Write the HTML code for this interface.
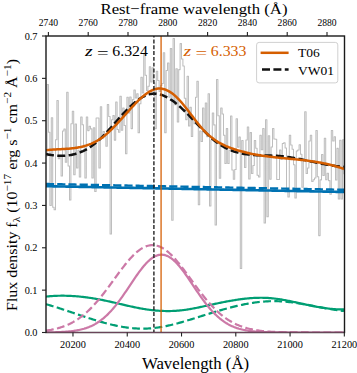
<!DOCTYPE html><html><head><meta charset="utf-8"><style>html,body{margin:0;padding:0;background:#fff;}svg{display:block;}</style></head><body><svg width="357" height="373" viewBox="0 0 357 373"><defs><clipPath id="ax"><rect x="46.00" y="36.00" width="298.50" height="296.50"/></clipPath></defs><rect width="357" height="373" fill="#fff"/><g clip-path="url(#ax)" fill="none" stroke-linejoin="round"><path d="M44.30 150.26H45.70V156.16H47.10V84.40H48.50V132.19H49.90V205.50H51.30V117.70H52.70V207.30H54.10V209.80H55.50V139.74H56.90V100.40H58.30V158.81H59.70V156.13H61.10V176.00H62.50V131.02H63.90V129.00H65.30V162.25H66.70V92.30H68.10V166.00H69.50V200.00H70.90V123.83H72.30V111.30H73.70V174.70H75.10V123.92H76.50V168.00H77.90V150.35H79.30V177.00H80.70V116.92H82.10V124.70H83.50V145.22H84.90V178.00H86.30V117.00H87.70V130.60H89.10V126.30H90.50V128.89H91.90V178.00H93.30V127.73H94.70V191.50H96.10V118.00H97.50V118.00H98.90V168.00H100.30V106.80H101.70V138.51H103.10V131.50H104.50V136.58H105.90V146.30H107.30V104.44H108.70V116.40H110.10V234.00H111.50V119.80H112.90V115.60H114.30V140.11H115.70V102.07H117.10V129.40H118.50V132.24H119.90V96.30H121.30V130.17H122.70V108.00H124.10V125.41H125.50V153.80H126.90V97.16H128.30V112.96H129.70V97.00H131.10V128.60H132.50V99.60H133.90V89.90H135.30V98.00H136.70V93.70H138.10V132.80H139.50V103.80H140.90V77.24H142.30V92.90H143.70V54.04H145.10V75.20H146.50V90.56H147.90V86.20H149.30V66.80H150.70V82.05H152.10V67.70H153.50V82.86H154.90V128.60H156.30V71.30H157.70V80.52H159.10V91.39H160.50V85.40H161.90V83.57H163.30V52.80H164.70V132.80H166.10V70.50H167.50V62.90H168.90V97.13H170.30V48.60H171.70V220.30H173.10V38.50H174.50V104.77H175.90V68.80H177.30V122.00H178.70V69.60H180.10V43.60H181.50V59.00H182.90V66.00H184.30V98.23H185.70V119.60H187.10V76.20H188.50V125.91H189.90V107.30H191.30V136.40H192.70V119.43H194.10V123.77H195.50V97.20H196.90V81.20H198.30V204.70H199.70V131.07H201.10V141.50H202.50V108.00H203.90V131.50H205.30V103.08H206.70V136.62H208.10V93.80H209.50V206.00H210.90V140.04H212.30V113.00H213.70V124.88H215.10V225.00H216.50V79.50H217.90V115.80H219.30V178.20H220.70V107.96H222.10V114.00H223.50V135.30H224.90V163.50H226.30V128.64H227.70V163.45H229.10V150.35H230.50V115.91H231.90V170.00H233.30V179.19H234.70V169.40H236.10V118.80H237.50V147.14H238.90V137.00H240.30V268.40H241.70V140.48H243.10V150.97H244.50V167.50H245.90V139.92H247.30V126.98H248.70V178.94H250.10V132.60H251.50V173.52H252.90V165.50H254.30V140.49H255.70V148.17H257.10V175.30H258.50V177.00H259.90V135.30H261.30V149.68H262.70V128.41H264.10V223.00H265.50V119.80H266.90V216.70H268.30V135.76H269.70V179.20H271.10V147.00H272.50V128.49H273.90V139.00H275.30V139.20H276.70V179.40H278.10V179.40H279.50V150.00H280.90V159.38H282.30V143.49H283.70V142.70H285.10V147.94H286.50V189.20H287.90V197.00H289.30V135.33H290.70V145.00H292.10V149.31H293.50V164.80H294.90V198.00H296.30V151.04H297.70V149.93H299.10V144.70H300.50V154.18H301.90V187.30H303.30V160.67H304.70V111.80H306.10V173.45H307.50V167.98H308.90V141.00H310.30V135.17H311.70V181.40H313.10V179.66H314.50V178.00H315.90V130.40H317.30V176.80H318.70V235.60H320.10V179.86H321.50V154.57H322.90V175.50H324.30V138.20H325.70V179.78H327.10V173.30H328.50V180.60H329.90V194.23H331.30V130.40H332.70V141.00H334.10V136.83H335.50V180.00H336.90V148.39H338.30V199.00H339.70V140.20H341.10V199.00H342.50V139.83H343.90V173.66H345.30V169.79H346.70" stroke="#bebebe" stroke-width="1.05"/><path d="M46.00 186.20L47.00 186.22L48.00 186.24L49.00 186.26L50.00 186.28L51.00 186.30L52.00 186.32L53.00 186.34L54.00 186.36L55.00 186.37L56.00 186.39L57.00 186.41L58.00 186.43L59.00 186.45L60.00 186.47L61.00 186.49L62.00 186.51L63.00 186.53L64.00 186.55L65.00 186.57L66.00 186.59L67.00 186.61L68.00 186.63L69.00 186.65L70.00 186.67L71.00 186.69L72.00 186.71L73.00 186.72L74.00 186.74L75.00 186.76L76.00 186.78L77.00 186.80L78.00 186.82L79.00 186.84L80.00 186.86L81.00 186.88L82.00 186.90L83.00 186.92L84.00 186.94L85.00 186.96L86.00 186.98L87.00 187.00L88.00 187.02L89.00 187.04L90.00 187.05L91.00 187.07L92.00 187.09L93.00 187.11L94.00 187.13L95.00 187.15L96.00 187.17L97.00 187.19L98.00 187.21L99.00 187.23L100.00 187.25L101.00 187.27L102.00 187.29L103.00 187.31L104.00 187.33L105.00 187.35L106.00 187.37L107.00 187.39L108.00 187.40L109.00 187.42L110.00 187.44L111.00 187.46L112.00 187.48L113.00 187.50L114.00 187.52L115.00 187.54L116.00 187.56L117.00 187.58L118.00 187.60L119.00 187.62L120.00 187.64L121.00 187.66L122.00 187.68L123.00 187.70L124.00 187.72L125.00 187.74L126.00 187.75L127.00 187.77L128.00 187.79L129.00 187.81L130.00 187.83L131.00 187.85L132.00 187.87L133.00 187.89L134.00 187.91L135.00 187.93L136.00 187.95L137.00 187.97L138.00 187.99L139.00 188.01L140.00 188.03L141.00 188.05L142.00 188.07L143.00 188.08L144.00 188.10L145.00 188.12L146.00 188.14L147.00 188.16L148.00 188.18L149.00 188.20L150.00 188.22L151.00 188.24L152.00 188.26L153.00 188.28L154.00 188.30L155.00 188.32L156.00 188.34L157.00 188.36L158.00 188.38L159.00 188.40L160.00 188.42L161.00 188.43L162.00 188.45L163.00 188.47L164.00 188.49L165.00 188.51L166.00 188.53L167.00 188.55L168.00 188.57L169.00 188.59L170.00 188.61L171.00 188.63L172.00 188.65L173.00 188.67L174.00 188.69L175.00 188.71L176.00 188.73L177.00 188.75L178.00 188.76L179.00 188.78L180.00 188.80L181.00 188.82L182.00 188.84L183.00 188.86L184.00 188.88L185.00 188.90L186.00 188.92L187.00 188.94L188.00 188.96L189.00 188.98L190.00 189.00L191.00 189.02L192.00 189.04L193.00 189.06L194.00 189.08L195.00 189.10L196.00 189.11L197.00 189.13L198.00 189.15L199.00 189.17L200.00 189.19L201.00 189.21L202.00 189.23L203.00 189.25L204.00 189.27L205.00 189.29L206.00 189.31L207.00 189.33L208.00 189.35L209.00 189.37L210.00 189.39L211.00 189.41L212.00 189.43L213.00 189.44L214.00 189.46L215.00 189.48L216.00 189.50L217.00 189.52L218.00 189.54L219.00 189.56L220.00 189.58L221.00 189.60L222.00 189.62L223.00 189.64L224.00 189.66L225.00 189.68L226.00 189.70L227.00 189.72L228.00 189.74L229.00 189.76L230.00 189.78L231.00 189.79L232.00 189.81L233.00 189.83L234.00 189.85L235.00 189.87L236.00 189.89L237.00 189.91L238.00 189.93L239.00 189.95L240.00 189.97L241.00 189.99L242.00 190.01L243.00 190.03L244.00 190.05L245.00 190.07L246.00 190.09L247.00 190.11L248.00 190.12L249.00 190.14L250.00 190.16L251.00 190.18L252.00 190.20L253.00 190.22L254.00 190.24L255.00 190.26L256.00 190.28L257.00 190.30L258.00 190.32L259.00 190.34L260.00 190.36L261.00 190.38L262.00 190.40L263.00 190.42L264.00 190.44L265.00 190.46L266.00 190.47L267.00 190.49L268.00 190.51L269.00 190.53L270.00 190.55L271.00 190.57L272.00 190.59L273.00 190.61L274.00 190.63L275.00 190.65L276.00 190.67L277.00 190.69L278.00 190.71L279.00 190.73L280.00 190.75L281.00 190.77L282.00 190.79L283.00 190.81L284.00 190.82L285.00 190.84L286.00 190.86L287.00 190.88L288.00 190.90L289.00 190.92L290.00 190.94L291.00 190.96L292.00 190.98L293.00 191.00L294.00 191.02L295.00 191.04L296.00 191.06L297.00 191.08L298.00 191.10L299.00 191.12L300.00 191.14L301.00 191.15L302.00 191.17L303.00 191.19L304.00 191.21L305.00 191.23L306.00 191.25L307.00 191.27L308.00 191.29L309.00 191.31L310.00 191.33L311.00 191.35L312.00 191.37L313.00 191.39L314.00 191.41L315.00 191.43L316.00 191.45L317.00 191.47L318.00 191.49L319.00 191.50L320.00 191.52L321.00 191.54L322.00 191.56L323.00 191.58L324.00 191.60L325.00 191.62L326.00 191.64L327.00 191.66L328.00 191.68L329.00 191.70L330.00 191.72L331.00 191.74L332.00 191.76L333.00 191.78L334.00 191.80L335.00 191.82L336.00 191.83L337.00 191.85L338.00 191.87L339.00 191.89L340.00 191.91L341.00 191.93L342.00 191.95L343.00 191.97L344.00 191.99" stroke="#0072B2" stroke-width="2.6"/><path d="M46.00 184.00L47.00 184.02L48.00 184.04L49.00 184.06L50.00 184.08L51.00 184.10L52.00 184.12L53.00 184.14L54.00 184.16L55.00 184.17L56.00 184.19L57.00 184.21L58.00 184.23L59.00 184.25L60.00 184.27L61.00 184.29L62.00 184.31L63.00 184.33L64.00 184.35L65.00 184.37L66.00 184.39L67.00 184.41L68.00 184.43L69.00 184.45L70.00 184.47L71.00 184.49L72.00 184.51L73.00 184.52L74.00 184.54L75.00 184.56L76.00 184.58L77.00 184.60L78.00 184.62L79.00 184.64L80.00 184.66L81.00 184.68L82.00 184.70L83.00 184.72L84.00 184.74L85.00 184.76L86.00 184.78L87.00 184.80L88.00 184.82L89.00 184.84L90.00 184.85L91.00 184.87L92.00 184.89L93.00 184.91L94.00 184.93L95.00 184.95L96.00 184.97L97.00 184.99L98.00 185.01L99.00 185.03L100.00 185.05L101.00 185.07L102.00 185.09L103.00 185.11L104.00 185.13L105.00 185.15L106.00 185.17L107.00 185.19L108.00 185.20L109.00 185.22L110.00 185.24L111.00 185.26L112.00 185.28L113.00 185.30L114.00 185.32L115.00 185.34L116.00 185.36L117.00 185.38L118.00 185.40L119.00 185.42L120.00 185.44L121.00 185.46L122.00 185.48L123.00 185.50L124.00 185.52L125.00 185.54L126.00 185.55L127.00 185.57L128.00 185.59L129.00 185.61L130.00 185.63L131.00 185.65L132.00 185.67L133.00 185.69L134.00 185.71L135.00 185.73L136.00 185.75L137.00 185.77L138.00 185.79L139.00 185.81L140.00 185.83L141.00 185.85L142.00 185.87L143.00 185.88L144.00 185.90L145.00 185.92L146.00 185.94L147.00 185.96L148.00 185.98L149.00 186.00L150.00 186.02L151.00 186.04L152.00 186.06L153.00 186.08L154.00 186.10L155.00 186.12L156.00 186.14L157.00 186.16L158.00 186.18L159.00 186.20L160.00 186.22L161.00 186.23L162.00 186.25L163.00 186.27L164.00 186.29L165.00 186.31L166.00 186.33L167.00 186.35L168.00 186.37L169.00 186.39L170.00 186.41L171.00 186.43L172.00 186.45L173.00 186.47L174.00 186.49L175.00 186.51L176.00 186.53L177.00 186.55L178.00 186.56L179.00 186.58L180.00 186.60L181.00 186.62L182.00 186.64L183.00 186.66L184.00 186.68L185.00 186.70L186.00 186.72L187.00 186.74L188.00 186.76L189.00 186.78L190.00 186.80L191.00 186.82L192.00 186.84L193.00 186.86L194.00 186.88L195.00 186.90L196.00 186.91L197.00 186.93L198.00 186.95L199.00 186.97L200.00 186.99L201.00 187.01L202.00 187.03L203.00 187.05L204.00 187.07L205.00 187.09L206.00 187.11L207.00 187.13L208.00 187.15L209.00 187.17L210.00 187.19L211.00 187.21L212.00 187.23L213.00 187.24L214.00 187.26L215.00 187.28L216.00 187.30L217.00 187.32L218.00 187.34L219.00 187.36L220.00 187.38L221.00 187.40L222.00 187.42L223.00 187.44L224.00 187.46L225.00 187.48L226.00 187.50L227.00 187.52L228.00 187.54L229.00 187.56L230.00 187.58L231.00 187.59L232.00 187.61L233.00 187.63L234.00 187.65L235.00 187.67L236.00 187.69L237.00 187.71L238.00 187.73L239.00 187.75L240.00 187.77L241.00 187.79L242.00 187.81L243.00 187.83L244.00 187.85L245.00 187.87L246.00 187.89L247.00 187.91L248.00 187.92L249.00 187.94L250.00 187.96L251.00 187.98L252.00 188.00L253.00 188.02L254.00 188.04L255.00 188.06L256.00 188.08L257.00 188.10L258.00 188.12L259.00 188.14L260.00 188.16L261.00 188.18L262.00 188.20L263.00 188.22L264.00 188.24L265.00 188.26L266.00 188.27L267.00 188.29L268.00 188.31L269.00 188.33L270.00 188.35L271.00 188.37L272.00 188.39L273.00 188.41L274.00 188.43L275.00 188.45L276.00 188.47L277.00 188.49L278.00 188.51L279.00 188.53L280.00 188.55L281.00 188.57L282.00 188.59L283.00 188.61L284.00 188.62L285.00 188.64L286.00 188.66L287.00 188.68L288.00 188.70L289.00 188.72L290.00 188.74L291.00 188.76L292.00 188.78L293.00 188.80L294.00 188.82L295.00 188.84L296.00 188.86L297.00 188.88L298.00 188.90L299.00 188.92L300.00 188.94L301.00 188.95L302.00 188.97L303.00 188.99L304.00 189.01L305.00 189.03L306.00 189.05L307.00 189.07L308.00 189.09L309.00 189.11L310.00 189.13L311.00 189.15L312.00 189.17L313.00 189.19L314.00 189.21L315.00 189.23L316.00 189.25L317.00 189.27L318.00 189.29L319.00 189.30L320.00 189.32L321.00 189.34L322.00 189.36L323.00 189.38L324.00 189.40L325.00 189.42L326.00 189.44L327.00 189.46L328.00 189.48L329.00 189.50L330.00 189.52L331.00 189.54L332.00 189.56L333.00 189.58L334.00 189.60L335.00 189.62L336.00 189.63L337.00 189.65L338.00 189.67L339.00 189.69L340.00 189.71L341.00 189.73L342.00 189.75L343.00 189.77L344.00 189.79" stroke="#0072B2" stroke-width="2.4" stroke-dasharray="8.2 3.0"/><path d="M46.00 296.57L47.00 296.47L48.00 296.37L49.00 296.28L50.00 296.19L51.00 296.12L52.00 296.05L53.00 295.98L54.00 295.93L55.00 295.88L56.00 295.83L57.00 295.80L58.00 295.77L59.00 295.74L60.00 295.73L61.00 295.71L62.00 295.71L63.00 295.71L64.00 295.72L65.00 295.73L66.00 295.75L67.00 295.78L68.00 295.81L69.00 295.85L70.00 295.89L71.00 295.94L72.00 295.99L73.00 296.05L74.00 296.12L75.00 296.19L76.00 296.27L77.00 296.35L78.00 296.43L79.00 296.53L80.00 296.62L81.00 296.73L82.00 296.83L83.00 296.95L84.00 297.06L85.00 297.19L86.00 297.31L87.00 297.45L88.00 297.58L89.00 297.72L90.00 297.87L91.00 298.02L92.00 298.17L93.00 298.33L94.00 298.50L95.00 298.66L96.00 298.83L97.00 299.01L98.00 299.19L99.00 299.37L100.00 299.56L101.00 299.75L102.00 299.95L103.00 300.15L104.00 300.35L105.00 300.56L106.00 300.77L107.00 300.98L108.00 301.20L109.00 301.42L110.00 301.64L111.00 301.86L112.00 302.09L113.00 302.32L114.00 302.55L115.00 302.78L116.00 303.01L117.00 303.25L118.00 303.48L119.00 303.71L120.00 303.95L121.00 304.18L122.00 304.42L123.00 304.65L124.00 304.89L125.00 305.12L126.00 305.35L127.00 305.58L128.00 305.81L129.00 306.03L130.00 306.26L131.00 306.48L132.00 306.69L133.00 306.91L134.00 307.12L135.00 307.33L136.00 307.54L137.00 307.74L138.00 307.93L139.00 308.13L140.00 308.32L141.00 308.50L142.00 308.68L143.00 308.85L144.00 309.02L145.00 309.18L146.00 309.33L147.00 309.48L148.00 309.63L149.00 309.76L150.00 309.89L151.00 310.01L152.00 310.13L153.00 310.24L154.00 310.34L155.00 310.44L156.00 310.53L157.00 310.61L158.00 310.69L159.00 310.76L160.00 310.82L161.00 310.87L162.00 310.92L163.00 310.96L164.00 310.99L165.00 311.02L166.00 311.04L167.00 311.05L168.00 311.05L169.00 311.04L170.00 311.03L171.00 311.01L172.00 310.98L173.00 310.94L174.00 310.90L175.00 310.85L176.00 310.79L177.00 310.72L178.00 310.64L179.00 310.56L180.00 310.46L181.00 310.36L182.00 310.25L183.00 310.13L184.00 310.00L185.00 309.87L186.00 309.73L187.00 309.58L188.00 309.42L189.00 309.25L190.00 309.08L191.00 308.91L192.00 308.73L193.00 308.54L194.00 308.35L195.00 308.16L196.00 307.96L197.00 307.76L198.00 307.55L199.00 307.34L200.00 307.13L201.00 306.92L202.00 306.70L203.00 306.49L204.00 306.27L205.00 306.05L206.00 305.83L207.00 305.61L208.00 305.40L209.00 305.18L210.00 304.96L211.00 304.74L212.00 304.53L213.00 304.31L214.00 304.09L215.00 303.88L216.00 303.67L217.00 303.46L218.00 303.25L219.00 303.04L220.00 302.83L221.00 302.63L222.00 302.43L223.00 302.23L224.00 302.03L225.00 301.83L226.00 301.64L227.00 301.45L228.00 301.26L229.00 301.08L230.00 300.90L231.00 300.72L232.00 300.55L233.00 300.38L234.00 300.22L235.00 300.06L236.00 299.90L237.00 299.75L238.00 299.60L239.00 299.45L240.00 299.31L241.00 299.18L242.00 299.05L243.00 298.93L244.00 298.81L245.00 298.70L246.00 298.59L247.00 298.49L248.00 298.39L249.00 298.30L250.00 298.22L251.00 298.14L252.00 298.07L253.00 298.01L254.00 297.96L255.00 297.91L256.00 297.86L257.00 297.83L258.00 297.80L259.00 297.78L260.00 297.77L261.00 297.77L262.00 297.77L263.00 297.78L264.00 297.80L265.00 297.83L266.00 297.87L267.00 297.92L268.00 297.97L269.00 298.04L270.00 298.11L271.00 298.19L272.00 298.28L273.00 298.38L274.00 298.49L275.00 298.61L276.00 298.74L277.00 298.87L278.00 299.01L279.00 299.15L280.00 299.31L281.00 299.46L282.00 299.63L283.00 299.80L284.00 299.98L285.00 300.16L286.00 300.34L287.00 300.53L288.00 300.73L289.00 300.93L290.00 301.13L291.00 301.33L292.00 301.54L293.00 301.75L294.00 301.97L295.00 302.18L296.00 302.40L297.00 302.62L298.00 302.84L299.00 303.06L300.00 303.28L301.00 303.50L302.00 303.72L303.00 303.94L304.00 304.16L305.00 304.38L306.00 304.60L307.00 304.81L308.00 305.03L309.00 305.24L310.00 305.45L311.00 305.66L312.00 305.86L313.00 306.06L314.00 306.26L315.00 306.46L316.00 306.65L317.00 306.83L318.00 307.01L319.00 307.19L320.00 307.36L321.00 307.53L322.00 307.69L323.00 307.84L324.00 307.99L325.00 308.14L326.00 308.27L327.00 308.40L328.00 308.53L329.00 308.64L330.00 308.75L331.00 308.85L332.00 308.95L333.00 309.03L334.00 309.11L335.00 309.18L336.00 309.24L337.00 309.29L338.00 309.33L339.00 309.36L340.00 309.38L341.00 309.39L342.00 309.39L343.00 309.38L344.00 309.36" stroke="#009E73" stroke-width="2.2"/><path d="M46.00 304.16L47.00 304.44L48.00 304.73L49.00 305.03L50.00 305.32L51.00 305.62L52.00 305.93L53.00 306.23L54.00 306.54L55.00 306.86L56.00 307.17L57.00 307.49L58.00 307.81L59.00 308.13L60.00 308.46L61.00 308.79L62.00 309.11L63.00 309.45L64.00 309.78L65.00 310.11L66.00 310.45L67.00 310.78L68.00 311.12L69.00 311.46L70.00 311.80L71.00 312.13L72.00 312.47L73.00 312.81L74.00 313.15L75.00 313.49L76.00 313.83L77.00 314.17L78.00 314.51L79.00 314.85L80.00 315.19L81.00 315.52L82.00 315.86L83.00 316.19L84.00 316.53L85.00 316.86L86.00 317.19L87.00 317.52L88.00 317.84L89.00 318.17L90.00 318.49L91.00 318.81L92.00 319.13L93.00 319.44L94.00 319.75L95.00 320.06L96.00 320.37L97.00 320.67L98.00 320.97L99.00 321.27L100.00 321.56L101.00 321.85L102.00 322.13L103.00 322.42L104.00 322.69L105.00 322.96L106.00 323.23L107.00 323.49L108.00 323.75L109.00 324.01L110.00 324.25L111.00 324.50L112.00 324.74L113.00 324.97L114.00 325.19L115.00 325.42L116.00 325.63L117.00 325.84L118.00 326.04L119.00 326.24L120.00 326.43L121.00 326.61L122.00 326.79L123.00 326.96L124.00 327.12L125.00 327.27L126.00 327.42L127.00 327.56L128.00 327.69L129.00 327.82L130.00 327.93L131.00 328.04L132.00 328.14L133.00 328.23L134.00 328.32L135.00 328.39L136.00 328.46L137.00 328.52L138.00 328.56L139.00 328.60L140.00 328.63L141.00 328.65L142.00 328.66L143.00 328.66L144.00 328.65L145.00 328.63L146.00 328.60L147.00 328.56L148.00 328.51L149.00 328.45L150.00 328.38L151.00 328.30L152.00 328.21L153.00 328.11L154.00 328.00L155.00 327.88L156.00 327.76L157.00 327.63L158.00 327.48L159.00 327.33L160.00 327.17L161.00 327.01L162.00 326.83L163.00 326.65L164.00 326.47L165.00 326.27L166.00 326.07L167.00 325.86L168.00 325.65L169.00 325.42L170.00 325.20L171.00 324.96L172.00 324.73L173.00 324.48L174.00 324.23L175.00 323.98L176.00 323.72L177.00 323.46L178.00 323.19L179.00 322.92L180.00 322.64L181.00 322.36L182.00 322.08L183.00 321.79L184.00 321.50L185.00 321.20L186.00 320.91L187.00 320.61L188.00 320.31L189.00 320.00L190.00 319.69L191.00 319.39L192.00 319.08L193.00 318.76L194.00 318.45L195.00 318.14L196.00 317.82L197.00 317.50L198.00 317.19L199.00 316.87L200.00 316.55L201.00 316.23L202.00 315.92L203.00 315.60L204.00 315.28L205.00 314.97L206.00 314.65L207.00 314.34L208.00 314.02L209.00 313.71L210.00 313.40L211.00 313.09L212.00 312.79L213.00 312.48L214.00 312.18L215.00 311.87L216.00 311.57L217.00 311.28L218.00 310.98L219.00 310.69L220.00 310.39L221.00 310.11L222.00 309.82L223.00 309.54L224.00 309.25L225.00 308.98L226.00 308.70L227.00 308.43L228.00 308.16L229.00 307.90L230.00 307.64L231.00 307.38L232.00 307.12L233.00 306.87L234.00 306.63L235.00 306.38L236.00 306.15L237.00 305.91L238.00 305.68L239.00 305.46L240.00 305.23L241.00 305.02L242.00 304.81L243.00 304.60L244.00 304.40L245.00 304.20L246.00 304.01L247.00 303.82L248.00 303.64L249.00 303.46L250.00 303.29L251.00 303.13L252.00 302.97L253.00 302.82L254.00 302.67L255.00 302.53L256.00 302.40L257.00 302.27L258.00 302.15L259.00 302.03L260.00 301.92L261.00 301.82L262.00 301.73L263.00 301.64L264.00 301.56L265.00 301.49L266.00 301.42L267.00 301.36L268.00 301.31L269.00 301.27L270.00 301.23L271.00 301.20L272.00 301.18L273.00 301.17L274.00 301.16L275.00 301.17L276.00 301.18L277.00 301.20L278.00 301.23L279.00 301.27L280.00 301.31L281.00 301.37L282.00 301.43L283.00 301.49L284.00 301.57L285.00 301.65L286.00 301.74L287.00 301.83L288.00 301.94L289.00 302.04L290.00 302.16L291.00 302.28L292.00 302.40L293.00 302.53L294.00 302.66L295.00 302.80L296.00 302.95L297.00 303.09L298.00 303.25L299.00 303.40L300.00 303.56L301.00 303.72L302.00 303.89L303.00 304.06L304.00 304.23L305.00 304.41L306.00 304.58L307.00 304.76L308.00 304.95L309.00 305.13L310.00 305.31L311.00 305.50L312.00 305.69L313.00 305.88L314.00 306.06L315.00 306.25L316.00 306.44L317.00 306.63L318.00 306.82L319.00 307.01L320.00 307.20L321.00 307.39L322.00 307.58L323.00 307.76L324.00 307.95L325.00 308.13L326.00 308.31L327.00 308.49L328.00 308.67L329.00 308.84L330.00 309.01L331.00 309.18L332.00 309.35L333.00 309.51L334.00 309.67L335.00 309.83L336.00 309.98L337.00 310.12L338.00 310.27L339.00 310.40L340.00 310.54L341.00 310.67L342.00 310.79L343.00 310.91L344.00 311.02" stroke="#009E73" stroke-width="2.2" stroke-dasharray="7.8 3.4"/><path d="M46.00 332.41L47.00 332.39L48.00 332.38L49.00 332.37L50.00 332.35L51.00 332.33L52.00 332.32L53.00 332.29L54.00 332.27L55.00 332.24L56.00 332.21L57.00 332.18L58.00 332.15L59.00 332.11L60.00 332.07L61.00 332.02L62.00 331.97L63.00 331.91L64.00 331.85L65.00 331.79L66.00 331.71L67.00 331.64L68.00 331.55L69.00 331.46L70.00 331.35L71.00 331.24L72.00 331.13L73.00 331.00L74.00 330.86L75.00 330.71L76.00 330.54L77.00 330.37L78.00 330.18L79.00 329.98L80.00 329.76L81.00 329.53L82.00 329.28L83.00 329.01L84.00 328.73L85.00 328.42L86.00 328.10L87.00 327.75L88.00 327.39L89.00 327.00L90.00 326.58L91.00 326.14L92.00 325.68L93.00 325.19L94.00 324.67L95.00 324.12L96.00 323.54L97.00 322.94L98.00 322.30L99.00 321.63L100.00 320.93L101.00 320.20L102.00 319.43L103.00 318.63L104.00 317.79L105.00 316.92L106.00 316.02L107.00 315.08L108.00 314.11L109.00 313.10L110.00 312.05L111.00 310.98L112.00 309.86L113.00 308.72L114.00 307.54L115.00 306.33L116.00 305.09L117.00 303.81L118.00 302.51L119.00 301.19L120.00 299.83L121.00 298.45L122.00 297.05L123.00 295.63L124.00 294.19L125.00 292.74L126.00 291.27L127.00 289.79L128.00 288.30L129.00 286.80L130.00 285.31L131.00 283.81L132.00 282.31L133.00 280.83L134.00 279.35L135.00 277.88L136.00 276.43L137.00 275.00L138.00 273.59L139.00 272.21L140.00 270.86L141.00 269.54L142.00 268.26L143.00 267.02L144.00 265.82L145.00 264.66L146.00 263.56L147.00 262.51L148.00 261.52L149.00 260.58L150.00 259.71L151.00 258.89L152.00 258.15L153.00 257.47L154.00 256.86L155.00 256.33L156.00 255.87L157.00 255.48L158.00 255.17L159.00 254.93L160.00 254.78L161.00 254.70L162.00 254.70L163.00 254.78L164.00 254.93L165.00 255.17L166.00 255.48L167.00 255.87L168.00 256.33L169.00 256.86L170.00 257.47L171.00 258.15L172.00 258.89L173.00 259.71L174.00 260.58L175.00 261.52L176.00 262.51L177.00 263.56L178.00 264.66L179.00 265.82L180.00 267.02L181.00 268.26L182.00 269.54L183.00 270.86L184.00 272.21L185.00 273.59L186.00 275.00L187.00 276.43L188.00 277.88L189.00 279.35L190.00 280.83L191.00 282.31L192.00 283.81L193.00 285.31L194.00 286.80L195.00 288.30L196.00 289.79L197.00 291.27L198.00 292.74L199.00 294.19L200.00 295.63L201.00 297.05L202.00 298.45L203.00 299.83L204.00 301.19L205.00 302.51L206.00 303.81L207.00 305.09L208.00 306.33L209.00 307.54L210.00 308.72L211.00 309.86L212.00 310.98L213.00 312.05L214.00 313.10L215.00 314.11L216.00 315.08L217.00 316.02L218.00 316.92L219.00 317.79L220.00 318.63L221.00 319.43L222.00 320.20L223.00 320.93L224.00 321.63L225.00 322.30L226.00 322.94L227.00 323.54L228.00 324.12L229.00 324.67L230.00 325.19L231.00 325.68L232.00 326.14L233.00 326.58L234.00 327.00L235.00 327.39L236.00 327.75L237.00 328.10L238.00 328.42L239.00 328.73L240.00 329.01L241.00 329.28L242.00 329.53L243.00 329.76L244.00 329.98L245.00 330.18L246.00 330.37L247.00 330.54L248.00 330.71L249.00 330.86L250.00 331.00L251.00 331.13L252.00 331.24L253.00 331.35L254.00 331.46L255.00 331.55L256.00 331.64L257.00 331.71L258.00 331.79L259.00 331.85L260.00 331.91L261.00 331.97L262.00 332.02L263.00 332.07L264.00 332.11L265.00 332.15L266.00 332.18L267.00 332.21L268.00 332.24L269.00 332.27L270.00 332.29L271.00 332.32L272.00 332.33L273.00 332.35L274.00 332.37L275.00 332.38L276.00 332.39L277.00 332.41L278.00 332.42L279.00 332.43L280.00 332.43L281.00 332.44L282.00 332.45L283.00 332.45L284.00 332.46L285.00 332.46L286.00 332.47L287.00 332.47L288.00 332.48L289.00 332.48L290.00 332.48L291.00 332.48L292.00 332.49L293.00 332.49L294.00 332.49L295.00 332.49L296.00 332.49L297.00 332.49L298.00 332.49L299.00 332.49L300.00 332.50L301.00 332.50L302.00 332.50L303.00 332.50L304.00 332.50L305.00 332.50L306.00 332.50L307.00 332.50L308.00 332.50L309.00 332.50L310.00 332.50L311.00 332.50L312.00 332.50L313.00 332.50L314.00 332.50L315.00 332.50L316.00 332.50L317.00 332.50L318.00 332.50L319.00 332.50L320.00 332.50L321.00 332.50L322.00 332.50L323.00 332.50L324.00 332.50L325.00 332.50L326.00 332.50L327.00 332.50L328.00 332.50L329.00 332.50L330.00 332.50L331.00 332.50L332.00 332.50L333.00 332.50L334.00 332.50L335.00 332.50L336.00 332.50L337.00 332.50L338.00 332.50L339.00 332.50L340.00 332.50L341.00 332.50L342.00 332.50L343.00 332.50L344.00 332.50" stroke="#CC79A7" stroke-width="2.2"/><path d="M46.00 330.60L47.00 330.45L48.00 330.30L49.00 330.14L50.00 329.97L51.00 329.80L52.00 329.60L53.00 329.40L54.00 329.19L55.00 328.96L56.00 328.72L57.00 328.47L58.00 328.20L59.00 327.92L60.00 327.63L61.00 327.31L62.00 326.98L63.00 326.64L64.00 326.28L65.00 325.90L66.00 325.50L67.00 325.08L68.00 324.64L69.00 324.18L70.00 323.70L71.00 323.20L72.00 322.68L73.00 322.14L74.00 321.57L75.00 320.98L76.00 320.36L77.00 319.73L78.00 319.06L79.00 318.37L80.00 317.66L81.00 316.92L82.00 316.16L83.00 315.37L84.00 314.55L85.00 313.71L86.00 312.84L87.00 311.95L88.00 311.02L89.00 310.08L90.00 309.10L91.00 308.10L92.00 307.08L93.00 306.03L94.00 304.95L95.00 303.85L96.00 302.73L97.00 301.58L98.00 300.42L99.00 299.23L100.00 298.01L101.00 296.78L102.00 295.53L103.00 294.26L104.00 292.98L105.00 291.68L106.00 290.36L107.00 289.04L108.00 287.70L109.00 286.35L110.00 284.99L111.00 283.62L112.00 282.25L113.00 280.88L114.00 279.50L115.00 278.12L116.00 276.75L117.00 275.38L118.00 274.01L119.00 272.66L120.00 271.31L121.00 269.97L122.00 268.65L123.00 267.35L124.00 266.06L125.00 264.79L126.00 263.55L127.00 262.33L128.00 261.13L129.00 259.97L130.00 258.84L131.00 257.73L132.00 256.67L133.00 255.64L134.00 254.64L135.00 253.69L136.00 252.78L137.00 251.92L138.00 251.10L139.00 250.33L140.00 249.60L141.00 248.93L142.00 248.31L143.00 247.74L144.00 247.22L145.00 246.76L146.00 246.35L147.00 246.00L148.00 245.71L149.00 245.48L150.00 245.30L151.00 245.18L152.00 245.12L153.00 245.12L154.00 245.18L155.00 245.30L156.00 245.48L157.00 245.71L158.00 246.00L159.00 246.35L160.00 246.76L161.00 247.22L162.00 247.74L163.00 248.31L164.00 248.93L165.00 249.60L166.00 250.33L167.00 251.10L168.00 251.92L169.00 252.78L170.00 253.69L171.00 254.64L172.00 255.64L173.00 256.67L174.00 257.73L175.00 258.84L176.00 259.97L177.00 261.13L178.00 262.33L179.00 263.55L180.00 264.79L181.00 266.06L182.00 267.35L183.00 268.65L184.00 269.97L185.00 271.31L186.00 272.66L187.00 274.01L188.00 275.38L189.00 276.75L190.00 278.12L191.00 279.50L192.00 280.88L193.00 282.25L194.00 283.62L195.00 284.99L196.00 286.35L197.00 287.70L198.00 289.04L199.00 290.36L200.00 291.68L201.00 292.98L202.00 294.26L203.00 295.53L204.00 296.78L205.00 298.01L206.00 299.23L207.00 300.42L208.00 301.58L209.00 302.73L210.00 303.85L211.00 304.95L212.00 306.03L213.00 307.08L214.00 308.10L215.00 309.10L216.00 310.08L217.00 311.02L218.00 311.95L219.00 312.84L220.00 313.71L221.00 314.55L222.00 315.37L223.00 316.16L224.00 316.92L225.00 317.66L226.00 318.37L227.00 319.06L228.00 319.73L229.00 320.36L230.00 320.98L231.00 321.57L232.00 322.14L233.00 322.68L234.00 323.20L235.00 323.70L236.00 324.18L237.00 324.64L238.00 325.08L239.00 325.50L240.00 325.90L241.00 326.28L242.00 326.64L243.00 326.98L244.00 327.31L245.00 327.63L246.00 327.92L247.00 328.20L248.00 328.47L249.00 328.72L250.00 328.96L251.00 329.19L252.00 329.40L253.00 329.60L254.00 329.80L255.00 329.97L256.00 330.14L257.00 330.30L258.00 330.45L259.00 330.60L260.00 330.73L261.00 330.85L262.00 330.97L263.00 331.08L264.00 331.18L265.00 331.28L266.00 331.37L267.00 331.45L268.00 331.53L269.00 331.60L270.00 331.67L271.00 331.73L272.00 331.79L273.00 331.85L274.00 331.90L275.00 331.95L276.00 331.99L277.00 332.03L278.00 332.07L279.00 332.10L280.00 332.14L281.00 332.17L282.00 332.19L283.00 332.22L284.00 332.24L285.00 332.27L286.00 332.29L287.00 332.30L288.00 332.32L289.00 332.34L290.00 332.35L291.00 332.36L292.00 332.38L293.00 332.39L294.00 332.40L295.00 332.41L296.00 332.42L297.00 332.42L298.00 332.43L299.00 332.44L300.00 332.44L301.00 332.45L302.00 332.45L303.00 332.46L304.00 332.46L305.00 332.47L306.00 332.47L307.00 332.47L308.00 332.47L309.00 332.48L310.00 332.48L311.00 332.48L312.00 332.48L313.00 332.49L314.00 332.49L315.00 332.49L316.00 332.49L317.00 332.49L318.00 332.49L319.00 332.49L320.00 332.49L321.00 332.49L322.00 332.49L323.00 332.50L324.00 332.50L325.00 332.50L326.00 332.50L327.00 332.50L328.00 332.50L329.00 332.50L330.00 332.50L331.00 332.50L332.00 332.50L333.00 332.50L334.00 332.50L335.00 332.50L336.00 332.50L337.00 332.50L338.00 332.50L339.00 332.50L340.00 332.50L341.00 332.50L342.00 332.50L343.00 332.50L344.00 332.50" stroke="#CC79A7" stroke-width="2.2" stroke-dasharray="7.8 3.4"/><path d="M46.00 154.05L47.00 154.26L48.00 154.46L49.00 154.65L50.00 154.82L51.00 154.98L52.00 155.13L53.00 155.27L54.00 155.39L55.00 155.50L56.00 155.59L57.00 155.67L58.00 155.73L59.00 155.77L60.00 155.80L61.00 155.82L62.00 155.81L63.00 155.79L64.00 155.75L65.00 155.69L66.00 155.62L67.00 155.52L68.00 155.41L69.00 155.27L70.00 155.12L71.00 154.94L72.00 154.74L73.00 154.52L74.00 154.28L75.00 154.02L76.00 153.73L77.00 153.43L78.00 153.09L79.00 152.74L80.00 152.36L81.00 151.95L82.00 151.52L83.00 151.07L84.00 150.58L85.00 150.08L86.00 149.54L87.00 148.98L88.00 148.39L89.00 147.77L90.00 147.13L91.00 146.45L92.00 145.75L93.00 145.02L94.00 144.26L95.00 143.46L96.00 142.64L97.00 141.79L98.00 140.90L99.00 139.99L100.00 139.05L101.00 138.09L102.00 137.10L103.00 136.10L104.00 135.07L105.00 134.03L106.00 132.97L107.00 131.89L108.00 130.80L109.00 129.70L110.00 128.59L111.00 127.47L112.00 126.34L113.00 125.21L114.00 124.08L115.00 122.94L116.00 121.80L117.00 120.67L118.00 119.53L119.00 118.40L120.00 117.28L121.00 116.17L122.00 115.06L123.00 113.97L124.00 112.89L125.00 111.82L126.00 110.77L127.00 109.73L128.00 108.72L129.00 107.72L130.00 106.75L131.00 105.81L132.00 104.88L133.00 103.99L134.00 103.12L135.00 102.28L136.00 101.47L137.00 100.70L138.00 99.95L139.00 99.24L140.00 98.57L141.00 97.94L142.00 97.34L143.00 96.78L144.00 96.27L145.00 95.80L146.00 95.37L147.00 94.99L148.00 94.65L149.00 94.36L150.00 94.12L151.00 93.93L152.00 93.80L153.00 93.71L154.00 93.68L155.00 93.69L156.00 93.75L157.00 93.86L158.00 94.01L159.00 94.21L160.00 94.45L161.00 94.73L162.00 95.06L163.00 95.42L164.00 95.83L165.00 96.27L166.00 96.75L167.00 97.27L168.00 97.82L169.00 98.41L170.00 99.03L171.00 99.68L172.00 100.36L173.00 101.08L174.00 101.82L175.00 102.58L176.00 103.38L177.00 104.20L178.00 105.04L179.00 105.90L180.00 106.79L181.00 107.69L182.00 108.62L183.00 109.56L184.00 110.51L185.00 111.49L186.00 112.47L187.00 113.46L188.00 114.47L189.00 115.49L190.00 116.51L191.00 117.54L192.00 118.58L193.00 119.62L194.00 120.66L195.00 121.71L196.00 122.75L197.00 123.80L198.00 124.84L199.00 125.88L200.00 126.92L201.00 127.94L202.00 128.97L203.00 129.98L204.00 130.98L205.00 131.97L206.00 132.95L207.00 133.92L208.00 134.87L209.00 135.80L210.00 136.72L211.00 137.62L212.00 138.50L213.00 139.36L214.00 140.19L215.00 141.00L216.00 141.79L217.00 142.55L218.00 143.28L219.00 143.98L220.00 144.66L221.00 145.30L222.00 145.92L223.00 146.51L224.00 147.08L225.00 147.62L226.00 148.14L227.00 148.63L228.00 149.10L229.00 149.55L230.00 149.97L231.00 150.37L232.00 150.75L233.00 151.11L234.00 151.46L235.00 151.78L236.00 152.08L237.00 152.36L238.00 152.63L239.00 152.88L240.00 153.11L241.00 153.33L242.00 153.54L243.00 153.72L244.00 153.90L245.00 154.06L246.00 154.21L247.00 154.35L248.00 154.47L249.00 154.59L250.00 154.69L251.00 154.78L252.00 154.87L253.00 154.95L254.00 155.02L255.00 155.08L256.00 155.14L257.00 155.19L258.00 155.23L259.00 155.27L260.00 155.30L261.00 155.34L262.00 155.37L263.00 155.39L264.00 155.42L265.00 155.44L266.00 155.46L267.00 155.49L268.00 155.51L269.00 155.54L270.00 155.56L271.00 155.59L272.00 155.63L273.00 155.66L274.00 155.70L275.00 155.75L276.00 155.80L277.00 155.86L278.00 155.92L279.00 156.00L280.00 156.07L281.00 156.16L282.00 156.26L283.00 156.36L284.00 156.48L285.00 156.59L286.00 156.72L287.00 156.85L288.00 157.00L289.00 157.14L290.00 157.29L291.00 157.45L292.00 157.62L293.00 157.79L294.00 157.96L295.00 158.14L296.00 158.32L297.00 158.51L298.00 158.70L299.00 158.90L300.00 159.09L301.00 159.30L302.00 159.50L303.00 159.71L304.00 159.92L305.00 160.13L306.00 160.34L307.00 160.55L308.00 160.77L309.00 160.98L310.00 161.20L311.00 161.42L312.00 161.63L313.00 161.85L314.00 162.07L315.00 162.28L316.00 162.49L317.00 162.71L318.00 162.92L319.00 163.13L320.00 163.33L321.00 163.54L322.00 163.74L323.00 163.94L324.00 164.13L325.00 164.32L326.00 164.51L327.00 164.70L328.00 164.87L329.00 165.05L330.00 165.22L331.00 165.38L332.00 165.54L333.00 165.70L334.00 165.84L335.00 165.98L336.00 166.12L337.00 166.24L338.00 166.36L339.00 166.48L340.00 166.58L341.00 166.68L342.00 166.77L343.00 166.85L344.00 166.92" stroke="#111" stroke-width="2.5" stroke-dasharray="8 3.4"/><path d="M46.00 150.23L47.00 150.12L48.00 150.01L49.00 149.92L50.00 149.83L51.00 149.74L52.00 149.67L53.00 149.60L54.00 149.53L55.00 149.47L56.00 149.41L57.00 149.36L58.00 149.31L59.00 149.25L60.00 149.20L61.00 149.15L62.00 149.10L63.00 149.04L64.00 148.99L65.00 148.93L66.00 148.86L67.00 148.79L68.00 148.72L69.00 148.64L70.00 148.55L71.00 148.46L72.00 148.35L73.00 148.24L74.00 148.12L75.00 147.98L76.00 147.84L77.00 147.68L78.00 147.51L79.00 147.33L80.00 147.13L81.00 146.92L82.00 146.69L83.00 146.44L84.00 146.18L85.00 145.90L86.00 145.60L87.00 145.28L88.00 144.94L89.00 144.58L90.00 144.20L91.00 143.80L92.00 143.37L93.00 142.92L94.00 142.44L95.00 141.94L96.00 141.41L97.00 140.86L98.00 140.27L99.00 139.66L100.00 139.02L101.00 138.35L102.00 137.65L103.00 136.92L104.00 136.15L105.00 135.36L106.00 134.53L107.00 133.67L108.00 132.78L109.00 131.87L110.00 130.93L111.00 129.97L112.00 128.99L113.00 127.99L114.00 126.97L115.00 125.93L116.00 124.87L117.00 123.80L118.00 122.72L119.00 121.63L120.00 120.53L121.00 119.42L122.00 118.31L123.00 117.19L124.00 116.07L125.00 114.94L126.00 113.82L127.00 112.70L128.00 111.58L129.00 110.47L130.00 109.36L131.00 108.27L132.00 107.18L133.00 106.10L134.00 105.04L135.00 103.99L136.00 102.95L137.00 101.94L138.00 100.94L139.00 99.97L140.00 99.02L141.00 98.09L142.00 97.19L143.00 96.33L144.00 95.49L145.00 94.70L146.00 93.94L147.00 93.22L148.00 92.54L149.00 91.90L150.00 91.32L151.00 90.78L152.00 90.29L153.00 89.86L154.00 89.48L155.00 89.16L156.00 88.90L157.00 88.71L158.00 88.58L159.00 88.51L160.00 88.52L161.00 88.58L162.00 88.71L163.00 88.91L164.00 89.17L165.00 89.48L166.00 89.86L167.00 90.29L168.00 90.79L169.00 91.34L170.00 91.94L171.00 92.60L172.00 93.31L173.00 94.07L174.00 94.88L175.00 95.75L176.00 96.66L177.00 97.62L178.00 98.62L179.00 99.67L180.00 100.76L181.00 101.88L182.00 103.04L183.00 104.24L184.00 105.45L185.00 106.70L186.00 107.96L187.00 109.24L188.00 110.54L189.00 111.84L190.00 113.16L191.00 114.48L192.00 115.80L193.00 117.12L194.00 118.43L195.00 119.74L196.00 121.03L197.00 122.31L198.00 123.57L199.00 124.81L200.00 126.02L201.00 127.21L202.00 128.36L203.00 129.49L204.00 130.57L205.00 131.61L206.00 132.62L207.00 133.58L208.00 134.51L209.00 135.40L210.00 136.25L211.00 137.08L212.00 137.86L213.00 138.62L214.00 139.35L215.00 140.04L216.00 140.71L217.00 141.35L218.00 141.96L219.00 142.55L220.00 143.11L221.00 143.65L222.00 144.17L223.00 144.67L224.00 145.15L225.00 145.61L226.00 146.06L227.00 146.48L228.00 146.89L229.00 147.29L230.00 147.68L231.00 148.05L232.00 148.41L233.00 148.77L234.00 149.11L235.00 149.45L236.00 149.77L237.00 150.09L238.00 150.40L239.00 150.70L240.00 150.99L241.00 151.27L242.00 151.55L243.00 151.82L244.00 152.08L245.00 152.33L246.00 152.58L247.00 152.81L248.00 153.05L249.00 153.27L250.00 153.49L251.00 153.70L252.00 153.91L253.00 154.11L254.00 154.30L255.00 154.49L256.00 154.67L257.00 154.85L258.00 155.02L259.00 155.19L260.00 155.35L261.00 155.51L262.00 155.66L263.00 155.81L264.00 155.95L265.00 156.09L266.00 156.23L267.00 156.36L268.00 156.49L269.00 156.62L270.00 156.74L271.00 156.86L272.00 156.98L273.00 157.09L274.00 157.20L275.00 157.31L276.00 157.42L277.00 157.53L278.00 157.63L279.00 157.73L280.00 157.83L281.00 157.93L282.00 158.03L283.00 158.13L284.00 158.22L285.00 158.32L286.00 158.41L287.00 158.51L288.00 158.60L289.00 158.70L290.00 158.79L291.00 158.89L292.00 158.99L293.00 159.08L294.00 159.18L295.00 159.28L296.00 159.38L297.00 159.48L298.00 159.58L299.00 159.69L300.00 159.80L301.00 159.90L302.00 160.02L303.00 160.13L304.00 160.25L305.00 160.36L306.00 160.49L307.00 160.61L308.00 160.74L309.00 160.87L310.00 161.01L311.00 161.15L312.00 161.29L313.00 161.44L314.00 161.59L315.00 161.74L316.00 161.91L317.00 162.07L318.00 162.24L319.00 162.42L320.00 162.60L321.00 162.79L322.00 162.98L323.00 163.18L324.00 163.38L325.00 163.59L326.00 163.81L327.00 164.03L328.00 164.26L329.00 164.50L330.00 164.74L331.00 164.99L332.00 165.25L333.00 165.52L334.00 165.79L335.00 166.07L336.00 166.36L337.00 166.66L338.00 166.96L339.00 167.28L340.00 167.60L341.00 167.93L342.00 168.28L343.00 168.63L344.00 168.99" stroke="#D55E00" stroke-width="2.5"/><line x1="153.9" y1="36.0" x2="153.9" y2="332.5" stroke="#222" stroke-width="1.4" stroke-dasharray="3.9 1.9" stroke-dashoffset="2.3"/><line x1="161.1" y1="36.0" x2="161.1" y2="332.5" stroke="#D55E00" stroke-opacity="0.75" stroke-width="1.7"/></g><rect x="46.00" y="36.00" width="298.50" height="296.50" fill="none" stroke="#1a1a1a" stroke-width="1.4"/><line x1="46.70" y1="332.50" x2="343.80" y2="332.50" stroke="#CC79A7" stroke-opacity="0.45" stroke-width="1.1"/><line x1="72.97" y1="332.50" x2="72.97" y2="336.50" stroke="#222" stroke-width="1.1"/><text x="72.97" y="347.8" font-family="Liberation Serif, serif" font-size="10.3" text-anchor="middle">20200</text><line x1="127.25" y1="332.50" x2="127.25" y2="336.50" stroke="#222" stroke-width="1.1"/><text x="127.25" y="347.8" font-family="Liberation Serif, serif" font-size="10.3" text-anchor="middle">20400</text><line x1="181.52" y1="332.50" x2="181.52" y2="336.50" stroke="#222" stroke-width="1.1"/><text x="181.52" y="347.8" font-family="Liberation Serif, serif" font-size="10.3" text-anchor="middle">20600</text><line x1="235.79" y1="332.50" x2="235.79" y2="336.50" stroke="#222" stroke-width="1.1"/><text x="235.79" y="347.8" font-family="Liberation Serif, serif" font-size="10.3" text-anchor="middle">20800</text><line x1="290.06" y1="332.50" x2="290.06" y2="336.50" stroke="#222" stroke-width="1.1"/><text x="290.06" y="347.8" font-family="Liberation Serif, serif" font-size="10.3" text-anchor="middle">21000</text><line x1="344.34" y1="332.50" x2="344.34" y2="336.50" stroke="#222" stroke-width="1.1"/><text x="344.34" y="347.8" font-family="Liberation Serif, serif" font-size="10.3" text-anchor="middle">21200</text><line x1="48.40" y1="36.00" x2="48.40" y2="32.00" stroke="#222" stroke-width="1.1"/><text x="48.40" y="25.8" font-family="Liberation Serif, serif" font-size="9.6" text-anchor="middle">2740</text><line x1="88.20" y1="36.00" x2="88.20" y2="32.00" stroke="#222" stroke-width="1.1"/><text x="88.20" y="25.8" font-family="Liberation Serif, serif" font-size="9.6" text-anchor="middle">2760</text><line x1="128.00" y1="36.00" x2="128.00" y2="32.00" stroke="#222" stroke-width="1.1"/><text x="128.00" y="25.8" font-family="Liberation Serif, serif" font-size="9.6" text-anchor="middle">2780</text><line x1="167.80" y1="36.00" x2="167.80" y2="32.00" stroke="#222" stroke-width="1.1"/><text x="167.80" y="25.8" font-family="Liberation Serif, serif" font-size="9.6" text-anchor="middle">2800</text><line x1="207.60" y1="36.00" x2="207.60" y2="32.00" stroke="#222" stroke-width="1.1"/><text x="207.60" y="25.8" font-family="Liberation Serif, serif" font-size="9.6" text-anchor="middle">2820</text><line x1="247.40" y1="36.00" x2="247.40" y2="32.00" stroke="#222" stroke-width="1.1"/><text x="247.40" y="25.8" font-family="Liberation Serif, serif" font-size="9.6" text-anchor="middle">2840</text><line x1="287.20" y1="36.00" x2="287.20" y2="32.00" stroke="#222" stroke-width="1.1"/><text x="287.20" y="25.8" font-family="Liberation Serif, serif" font-size="9.6" text-anchor="middle">2860</text><line x1="327.00" y1="36.00" x2="327.00" y2="32.00" stroke="#222" stroke-width="1.1"/><text x="327.00" y="25.8" font-family="Liberation Serif, serif" font-size="9.6" text-anchor="middle">2880</text><line x1="42.00" y1="332.50" x2="46.00" y2="332.50" stroke="#222" stroke-width="1.1"/><text x="37.5" y="336.00" font-family="Liberation Serif, serif" font-size="10.3" text-anchor="end">0.0</text><line x1="42.00" y1="290.14" x2="46.00" y2="290.14" stroke="#222" stroke-width="1.1"/><text x="37.5" y="293.64" font-family="Liberation Serif, serif" font-size="10.3" text-anchor="end">0.1</text><line x1="42.00" y1="247.79" x2="46.00" y2="247.79" stroke="#222" stroke-width="1.1"/><text x="37.5" y="251.29" font-family="Liberation Serif, serif" font-size="10.3" text-anchor="end">0.2</text><line x1="42.00" y1="205.43" x2="46.00" y2="205.43" stroke="#222" stroke-width="1.1"/><text x="37.5" y="208.93" font-family="Liberation Serif, serif" font-size="10.3" text-anchor="end">0.3</text><line x1="42.00" y1="163.07" x2="46.00" y2="163.07" stroke="#222" stroke-width="1.1"/><text x="37.5" y="166.57" font-family="Liberation Serif, serif" font-size="10.3" text-anchor="end">0.4</text><line x1="42.00" y1="120.71" x2="46.00" y2="120.71" stroke="#222" stroke-width="1.1"/><text x="37.5" y="124.21" font-family="Liberation Serif, serif" font-size="10.3" text-anchor="end">0.5</text><line x1="42.00" y1="78.36" x2="46.00" y2="78.36" stroke="#222" stroke-width="1.1"/><text x="37.5" y="81.86" font-family="Liberation Serif, serif" font-size="10.3" text-anchor="end">0.6</text><line x1="42.00" y1="36.00" x2="46.00" y2="36.00" stroke="#222" stroke-width="1.1"/><text x="37.5" y="39.50" font-family="Liberation Serif, serif" font-size="10.3" text-anchor="end">0.7</text><text x="141.9" y="368.8" font-family="Liberation Serif, serif" font-size="15.8" textLength="107.3" lengthAdjust="spacingAndGlyphs">Wavelength (Å)</text><text x="100.5" y="14.2" font-family="Liberation Serif, serif" font-size="15.4" textLength="187" lengthAdjust="spacingAndGlyphs">Rest−frame wavelength (Å)</text><text transform="translate(17.4 311) rotate(-90)" x="0" y="0" font-family="Liberation Serif, serif" font-size="15.5" textLength="252" lengthAdjust="spacingAndGlyphs">Flux density f<tspan font-size="11" dy="3">λ</tspan><tspan dy="-3"> (10</tspan><tspan font-size="11" dy="-6">−17</tspan><tspan dy="6"> erg s</tspan><tspan font-size="11" dy="-6">−1</tspan><tspan dy="6"> cm</tspan><tspan font-size="11" dy="-6">−2</tspan><tspan dy="6"> Å</tspan><tspan font-size="11" dy="-6">−1</tspan><tspan dy="6">)</tspan></text><text x="84.90" y="55.5" font-family="Liberation Serif, serif" font-size="15" font-style="italic" fill="#000" textLength="7.6" lengthAdjust="spacingAndGlyphs">z</text><text x="96.90" y="57.6" font-family="Liberation Serif, serif" font-size="15" fill="#000" textLength="11.6" lengthAdjust="spacingAndGlyphs">=</text><text x="112.30" y="55.8" font-family="Liberation Serif, serif" font-size="15.3" fill="#000" textLength="35.6" lengthAdjust="spacingAndGlyphs">6.324</text><text x="183.50" y="55.5" font-family="Liberation Serif, serif" font-size="15" font-style="italic" fill="#D55E00" textLength="7.6" lengthAdjust="spacingAndGlyphs">z</text><text x="195.50" y="57.6" font-family="Liberation Serif, serif" font-size="15" fill="#D55E00" textLength="11.6" lengthAdjust="spacingAndGlyphs">=</text><text x="210.80" y="55.8" font-family="Liberation Serif, serif" font-size="15.3" fill="#D55E00" textLength="35.6" lengthAdjust="spacingAndGlyphs">6.333</text><rect x="256.6" y="42.4" width="81.2" height="40.5" rx="2.5" fill="#fff" fill-opacity="0.8" stroke="#d0d0d0" stroke-width="1"/><line x1="260.6" y1="52.8" x2="288.6" y2="52.8" stroke="#D55E00" stroke-width="2.5"/><line x1="262" y1="69.6" x2="288.6" y2="69.6" stroke="#111" stroke-width="2.5" stroke-dasharray="8 3.4"/><text x="297.9" y="56.8" font-family="Liberation Serif, serif" font-size="13.5">T06</text><text x="297.9" y="74.9" font-family="Liberation Serif, serif" font-size="13.5">VW01</text></svg></body></html>
